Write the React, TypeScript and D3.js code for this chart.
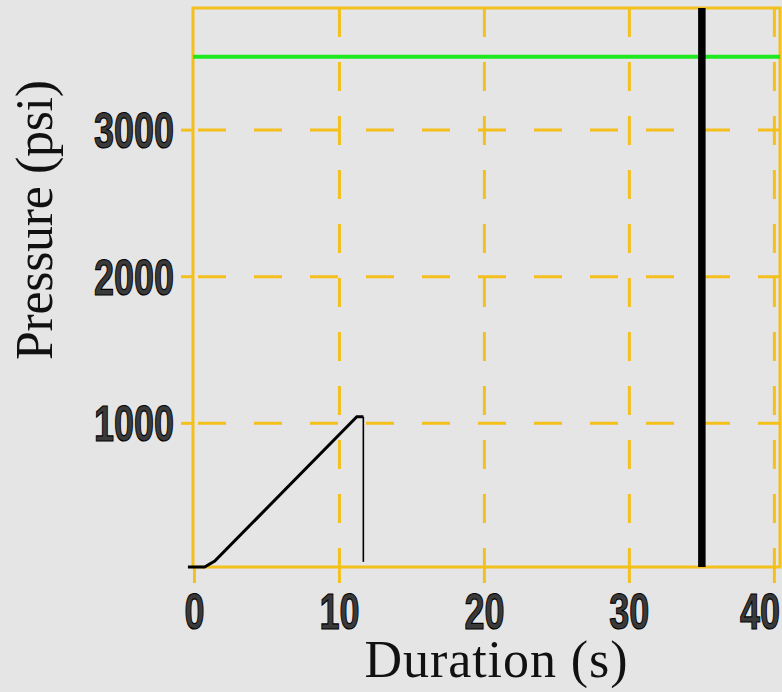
import React from "react";
import * as d3 from "d3";

// pressure trace (s, psi)
const traceTime = [-0.45, 0.7, 1.4, 11.2, 11.65];
const tracePsi = [20, 20, 60, 1045, 1045];
const dropTime = [11.65, 11.65];
const dropPsi = [1045, 55];

const limitPsi = 3500; // green limit line
const markerTime = 35; // black marker line

const xTicks = [0, 10, 20, 30, 40];
const yTicks = [1000, 2000, 3000];

const W = 782;
const H = 692;
const gold = "#f4c01c";

const App = () => {
  const x = d3.scaleLinear().domain([-0.1, 40.39]).range([193, 780]);
  const y = d3.scaleLinear().domain([20, 3833]).range([567, 8]);

  const line = d3
    .line<[number, number]>()
    .x((d) => x(d[0]))
    .y((d) => y(d[1]));

  const trace = traceTime.map((t, i) => [t, tracePsi[i]] as [number, number]);
  const drop = dropTime.map((t, i) => [t, dropPsi[i]] as [number, number]);

  const [x0, x1] = x.range();
  const [y0, y1] = y.range();

  const tickFont = {
    fontFamily: "'Liberation Sans', Arial, sans-serif",
    fontWeight: 700,
    fontSize: 50,
  };

  return (
    <svg
      width={W}
      height={H}
      style={{ position: "absolute", left: 0, top: 0, background: "#e5e5e5" }}
    >
      {/* grid */}
      {yTicks.map((t) => (
        <g key={"gy" + t}>
          <line x1={x0 - 12} x2={x0} y1={y(t)} y2={y(t)} stroke={gold} strokeWidth={3} />
          <line
            x1={x0 + 5}
            x2={x1}
            y1={y(t)}
            y2={y(t)}
            stroke={gold}
            strokeWidth={3}
            strokeDasharray="28,28"
          />
        </g>
      ))}
      {xTicks.map((t) => (
        <g key={"gx" + t}>
          <line x1={x(t)} x2={x(t)} y1={y0} y2={y0 + 16} stroke={gold} strokeWidth={3} />
          {t > 0 && (
            <line
              x1={x(t)}
              x2={x(t)}
              y1={y1}
              y2={y0}
              stroke={gold}
              strokeWidth={3}
              strokeDasharray="29,25"
            />
          )}
        </g>
      ))}
      <rect
        x={x0}
        y={y1}
        width={x1 - x0}
        height={y0 - y1}
        fill="none"
        stroke={gold}
        strokeWidth={3}
      />

      {/* limit + marker */}
      <line x1={x0} x2={x1} y1={y(limitPsi)} y2={y(limitPsi)} stroke="#1ee81e" strokeWidth={4} />
      <line
        x1={x(markerTime)}
        x2={x(markerTime)}
        y1={y1}
        y2={y0}
        stroke="#000"
        strokeWidth={7.5}
      />

      {/* trace */}
      <path d={line(trace) || ""} fill="none" stroke="#000" strokeWidth={3} />
      <path d={line(drop) || ""} fill="none" stroke="#000" strokeWidth={1.6} />

      {/* tick labels */}
      {yTicks.map((t) => (
        <g key={"ly" + t} transform={`translate(174,${y(t)}) scale(0.72,1)`}>
          <text
            textAnchor="end"
            dy="0.36em"
            fill="#3a3a3a"
            stroke="#000"
            strokeWidth={1.2}
            style={tickFont}
          >
            {t}
          </text>
        </g>
      ))}
      {xTicks.map((t) => (
        <g
          key={"lx" + t}
          transform={`translate(${Math.min(x(t), W - 22)},611) scale(0.72,1)`}
        >
          <text
            textAnchor="middle"
            dy="0.36em"
            fill="#3a3a3a"
            stroke="#000"
            strokeWidth={1.2}
            style={tickFont}
          >
            {t}
          </text>
        </g>
      ))}

      {/* axis titles */}
      <text
        x={496}
        y={677}
        textAnchor="middle"
        fill="#111"
        textLength={263}
        style={{ fontFamily: "'Liberation Serif', 'Times New Roman', serif", fontSize: 52 }}
      >
        Duration (s)
      </text>
      <text
        transform="translate(52,220) rotate(-90)"
        textAnchor="middle"
        fill="#111"
        textLength={280}
        style={{ fontFamily: "'Liberation Serif', 'Times New Roman', serif", fontSize: 52 }}
      >
        Pressure (psi)
      </text>
    </svg>
  );
};

export default App;
